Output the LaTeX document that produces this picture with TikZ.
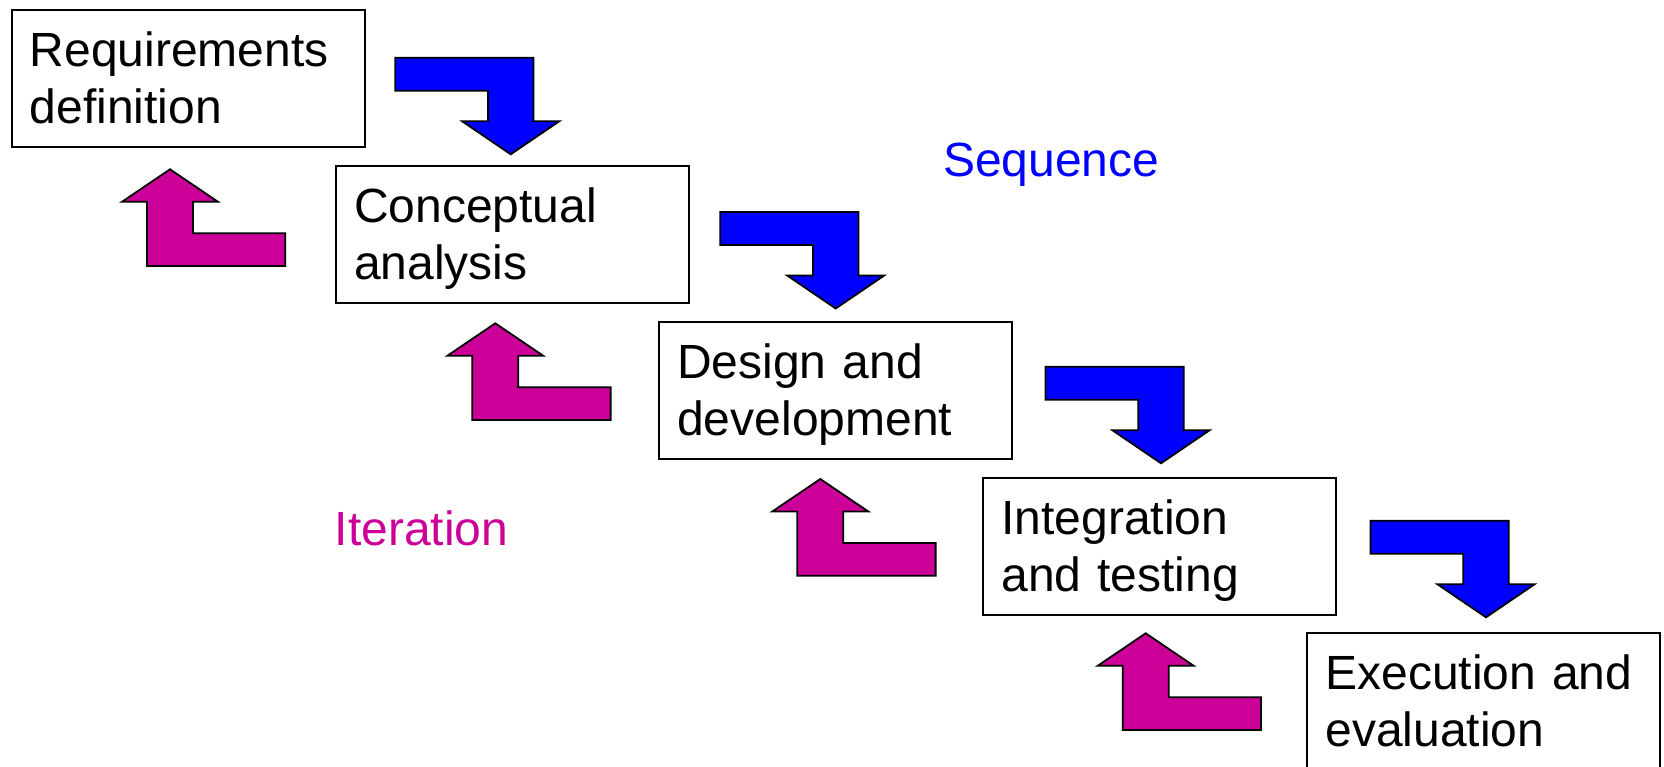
\documentclass[tikz,border=0pt]{standalone}
\usepackage{fontspec}
\setmainfont{Liberation Sans}
\definecolor{seqblue}{RGB}{0,0,255}
\definecolor{itermag}{RGB}{204,0,153}
\tikzset{
  stage/.style={draw=black, line width=1.8pt, fill=white, anchor=north west,
    outer sep=0pt, inner xsep=18pt, inner ysep=0pt, text width=317pt,
    align=left, text height=56.5pt, text depth=80.5pt,
    font=\fontsize{48}{57}\selectfont},
  seqshape/.style={fill=seqblue, draw=black, line width=1.8pt},
  itershape/.style={fill=itermag, draw=black, line width=1.8pt},
  caption/.style={anchor=base west, inner sep=0pt, font=\fontsize{48}{57}\selectfont},
  seqarrow/.pic={\path[seqshape] (0,0) -- (48.5,-33) -- (22.8,-33) -- (22.8,-96.5)
     -- (-115.5,-96.5) -- (-115.5,-63.5) -- (-22.8,-63.5) -- (-22.8,-33)
     -- (-48.5,-33) -- cycle;},
  iterarrow/.pic={\path[itershape] (0,0) -- (48,32.5) -- (23,32.5) -- (23,64)
     -- (115.3,64) -- (115.3,96.7) -- (-23,96.7) -- (-23,32.5)
     -- (-48,32.5) -- cycle;},
}
\begin{document}
\begin{tikzpicture}[x=1pt,y=-1pt]
\useasboundingbox (0,0) rectangle (1664,766);
% stages
\node[stage] (req) at (11.7,10) {Requirements\\definition};
\node[stage] (con) at (336,166) {Conceptual\\analysis};
\node[stage] (des) at (659.3,321.7) {Design and\\development};
\node[stage] (int) at (983.3,478.3) {Integration\\and testing};
\node[stage] (exe) at (1307.3,633.3) {Execution and\\evaluation};
% sequence arrows (tips)
\coordinate (s1) at (510.7,154.3);
\coordinate (s2) at (835.7,308.5);
\coordinate (s3) at (1161,463.3);
\coordinate (s4) at (1486,617.3);
\foreach \c in {s1,s2,s3,s4} \pic at (\c) {seqarrow};
% iteration arrows (tips)
\coordinate (i1) at (170,169.3);
\coordinate (i2) at (495.3,323.3);
\coordinate (i3) at (820.3,479);
\coordinate (i4) at (1145.7,633.3);
\foreach \c in {i1,i2,i3,i4} \pic at (\c) {iterarrow};
% captions
\node[caption, text=seqblue] (seq) at (942.9,176.7) {Sequence};
\node[caption, text=itermag] (ite) at (334.6,545) {Iteration};
\end{tikzpicture}
\end{document}
